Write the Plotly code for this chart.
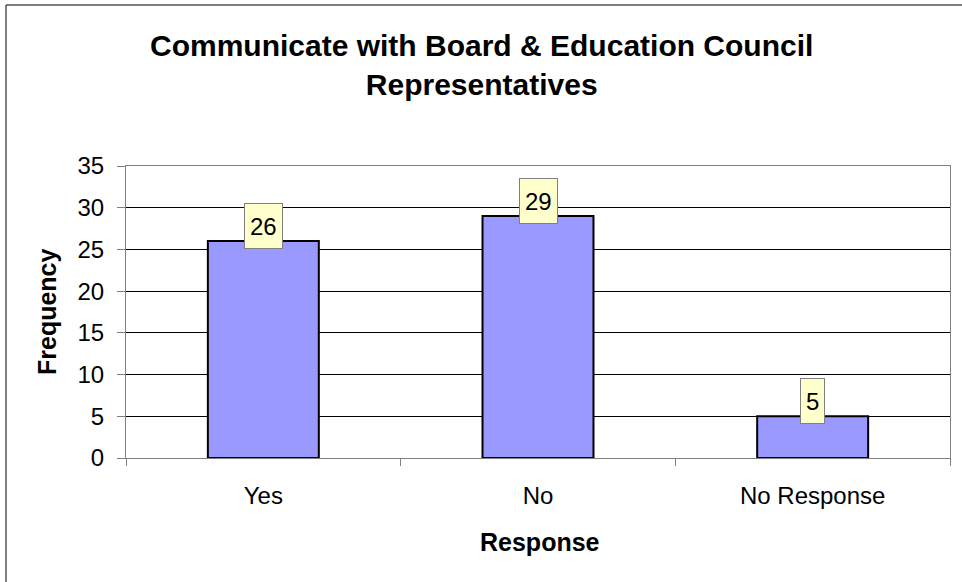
import plotly.graph_objects as go

categories = ["Yes", "No", "No Response"]
values = [26, 29, 5]
y_ticks = [0, 5, 10, 15, 20, 25, 30, 35]

W, H = 962, 582
L, R, T, B = 126, 950, 166, 458
FONT = "Arial, Liberation Sans, sans-serif"

def px(x):
    return (x - L) / (R - L)

def py(y):
    return (B - y) / (B - T)

fig = go.Figure()
fig.add_trace(go.Bar(
    x=categories, y=values,
    marker=dict(color="#9999FF", line=dict(color="#000000", width=2)),
    width=0.404,
    hoverinfo="skip",
))

for c, v in zip(categories, values):
    fig.add_annotation(
        x=c, y=v, xref="x", yref="y",
        text=str(v), showarrow=False,
        font=dict(family=FONT, size=24, color="#000000"),
        bgcolor="#FFFFCC", bordercolor="#808080", borderwidth=1,
        borderpad=5, height=34,
        yanchor="middle", yshift=15,
    )

fig.add_annotation(
    text="<b>Communicate with Board &amp; Education Council<br>Representatives</b>",
    xref="paper", yref="paper", x=px(481), y=py(65),
    xanchor="center", yanchor="middle", showarrow=False,
    font=dict(family=FONT, size=30, color="#000000"),
)
fig.add_annotation(
    text="<b>Response</b>", xref="paper", yref="paper",
    x=px(540), y=py(542), xanchor="center", yanchor="middle", showarrow=False,
    font=dict(family=FONT, size=25, color="#000000"),
)
fig.add_annotation(
    text="<b>Frequency</b>", xref="paper", yref="paper",
    x=px(47), y=py(312), xanchor="center", yanchor="middle", showarrow=False,
    textangle=-90,
    font=dict(family=FONT, size=25, color="#000000"),
)

fig.add_shape(type="rect", xref="paper", yref="paper",
              x0=px(6), y0=py(600), x1=px(980), y1=py(5),
              line=dict(color="#000000", width=1), fillcolor="rgba(0,0,0,0)")

fig.update_layout(
    width=W, height=H,
    margin=dict(l=L, r=W - R, t=T, b=H - B),
    paper_bgcolor="#FFFFFF", plot_bgcolor="#FFFFFF",
    showlegend=False,
    font=dict(family=FONT, size=24, color="#000000"),
    xaxis=dict(
        showline=True, linecolor="#808080", linewidth=1, mirror=True,
        ticks="outside", tickson="boundaries", ticklen=7, tickcolor="#808080",
        showgrid=False, tickfont=dict(size=24), ticklabelstandoff=16,
    ),
    yaxis=dict(
        range=[0, 35], tickvals=y_ticks, ticktext=[str(t) for t in y_ticks],
        showline=True, linecolor="#808080", linewidth=1, mirror=True,
        ticks="outside", ticklen=8, tickcolor="#808080",
        showgrid=True, gridcolor="#000000", gridwidth=1,
        zeroline=False, tickfont=dict(size=24), ticklabelstandoff=8,
    ),
)

fig.write_html(
    "out.html",
    config={"displayModeBar": False, "staticPlot": True},
    post_script="document.documentElement.style.margin='0';document.body.style.margin='0';document.body.style.padding='0';",
)
